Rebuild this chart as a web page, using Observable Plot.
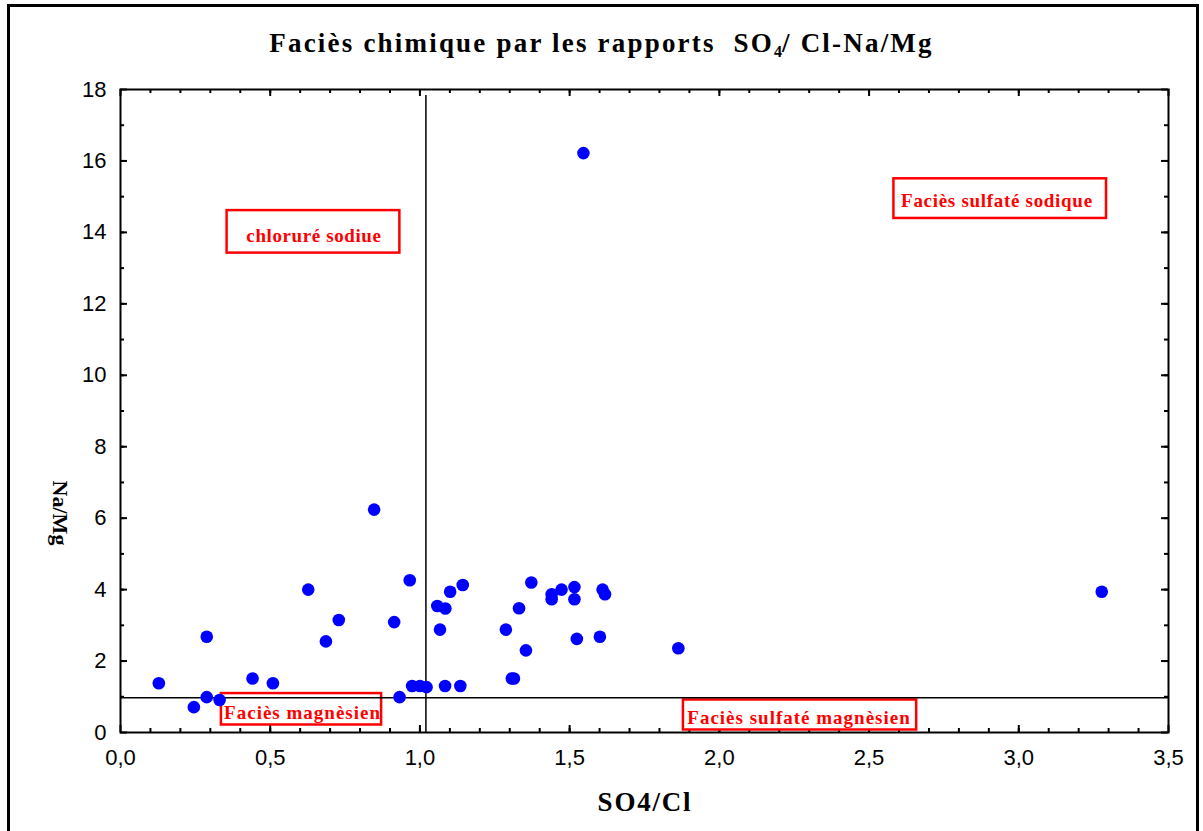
<!DOCTYPE html>
<html>
<head>
<meta charset="utf-8">
<script src="https://cdn.jsdelivr.net/npm/d3@7"></script>
<script src="https://cdn.jsdelivr.net/npm/@observablehq/plot@0.6"></script>
<style>
  html, body { margin: 0; padding: 0; background: #fff; }
  #wrap { position: relative; width: 1203px; height: 831px; overflow: hidden; background: #fff; }
  #border { position: absolute; left: 7px; top: 4px; width: 1186px; height: 900px; border: 3px solid #000; box-sizing: content-box; }
  #chart { position: absolute; left: 0; top: 0; }
  .title { position: absolute; left: 0; width: 1203px; top: 28px; text-align: center;
           font-family: "Liberation Serif", serif; font-weight: bold; font-size: 27px; letter-spacing: 2.2px; color: #000; }
  .title sub { font-size: 16px; vertical-align: -5px; line-height: 0; letter-spacing: 0; }
  .xlabel { position: absolute; left: 0; width: 1290px; top: 787px; text-align: center;
            font-family: "Liberation Serif", serif; font-weight: bold; font-size: 27px; letter-spacing: 1.8px; }
  .ylabel { position: absolute; left: 60px; top: 513px; transform: translate(-50%, -50%) rotate(90deg);
            font-family: "Liberation Serif", serif; font-weight: bold; font-size: 22px; white-space: nowrap; }
</style>
</head>
<body>
<div id="wrap">
  <div id="border"></div>
  <div id="chart"></div>
  <div class="title">Faciès chimique par les rapports&nbsp; SO<sub>4</sub>/ Cl-Na/Mg</div>
  <div class="xlabel">SO4/Cl</div>
  <div class="ylabel">Na/Mg</div>
</div>
<script>
// ---- data ----
const so4cl = [0.128, 0.245, 0.288, 0.288, 0.331, 0.441, 0.509, 0.627, 0.686, 0.729,
               0.847, 0.914, 0.932, 0.966, 0.974, 1.000, 1.022, 1.084, 1.135, 1.058,
               1.085, 1.101, 1.143, 1.067, 1.287, 1.307, 1.314, 1.331, 1.354, 1.372,
               1.440, 1.440, 1.473, 1.516, 1.516, 1.524, 1.546, 1.601, 1.610, 1.618,
               1.863, 3.277];
const naMg  = [1.38, 0.71, 2.68, 0.99, 0.91, 1.51, 1.38, 4.00, 2.55, 3.15,
               6.24, 3.09, 0.99, 4.26, 1.30, 1.30, 1.27, 1.30, 1.30, 3.54,
               3.47, 3.94, 4.13, 2.88, 2.88, 1.51, 1.51, 3.48, 2.30, 4.20,
               3.87, 3.73, 4.00, 4.07, 3.73, 2.62, 16.22, 2.68, 4.00, 3.87,
               2.36, 3.94];
const xTicks = [0, 0.5, 1.0, 1.5, 2.0, 2.5, 3.0, 3.5];
const yTicks = [0, 2, 4, 6, 8, 10, 12, 14, 16, 18];
const limitSO4Cl = 1.02;   // vertical separation line
const limitNaMg = 0.97;    // horizontal separation line
const zoneLabels = ["chloruré sodiue", "Faciès sulfaté sodique", "Faciès magnèsien", "Faciès sulfaté magnèsien"];
const zoneX  = [0.646, 2.927, 0.608, 2.266];
const zoneY  = [13.89, 14.87, 0.54, 0.40];
const zoneX1 = [0.356, 2.583, 0.337, 1.880];
const zoneX2 = [0.933, 3.293, 0.872, 2.659];
const zoneY1 = [13.42, 14.39, 0.21, 0.07];
const zoneY2 = [14.61, 15.50, 1.09, 0.91];

const points = so4cl.map((x, i) => ({x, y: naMg[i]}));
const zones = zoneLabels.map((label, i) => ({label, x: zoneX[i], y: zoneY[i], x1: zoneX1[i], x2: zoneX2[i], y1: zoneY1[i], y2: zoneY2[i]}));
const minorX = d3.range(1, 35).map(i => i / 10);
const minorY = d3.range(1, 18);
const fmt = d => d.toFixed(1).replace(".", ",");

const X0 = 0, X1 = 3.5, Y0 = 0, Y1 = 18;
const W = 1203, H = 831, ML = 120, MR = 35, MT = 89, MB = 99;
// tick lengths expressed in data units (px / scale factor)
const pxX = (X1 - X0) / (W - ML - MR);
const pxY = (Y1 - Y0) / (H - MT - MB);
const tickStyle = {stroke: "#000", strokeWidth: 2};
const ticksX = (vals, len) => [
  Plot.ruleX(vals, {x: d => d, y1: Y0, y2: Y0 + len * pxY, ...tickStyle}),
  Plot.ruleX(vals, {x: d => d, y1: Y1 - len * pxY, y2: Y1, ...tickStyle})
];
const ticksY = (vals, len) => [
  Plot.ruleY(vals, {y: d => d, x1: X0, x2: X0 + len * pxX, ...tickStyle}),
  Plot.ruleY(vals, {y: d => d, x1: X1 - len * pxX, x2: X1, ...tickStyle})
];

const chart = Plot.plot({
  width: W,
  height: H,
  marginLeft: ML,
  marginRight: MR,
  marginTop: MT,
  marginBottom: MB,
  style: {fontFamily: "Liberation Sans, Arial, sans-serif", background: "transparent", color: "#000"},
  x: {domain: [X0, X1]},
  y: {domain: [Y0, Y1]},
  marks: [
    // tick labels
    Plot.axisX({anchor: "bottom", ticks: xTicks, tickFormat: fmt, tickSize: 0, tickPadding: 17, fontSize: 22, label: null}),
    Plot.axisY({anchor: "left", ticks: yTicks, tickFormat: d => String(d), tickSize: 0, tickPadding: 14, fontSize: 22, label: null}),
    // inward ticks
    ...ticksX(minorX, 4),
    ...ticksX(xTicks, 7),
    ...ticksY(minorY, 4),
    ...ticksY(yTicks, 7),
    // zone boxes
    Plot.rect(zones, {x1: "x1", x2: "x2", y1: "y1", y2: "y2", fill: "white", stroke: "#ff0000", strokeWidth: 2.5}),
    // separation lines (drawn over the boxes, as in the original)
    Plot.ruleY([limitNaMg], {stroke: "#000", strokeWidth: 1.5}),
    Plot.ruleX([limitSO4Cl], {y1: 0, y2: 17.83, stroke: "#000", strokeWidth: 1.5}),
    Plot.text(zones, {x: "x", y: "y", text: "label", fill: "#ff0000", fontWeight: "bold",
      fontFamily: "Liberation Serif, serif", fontSize: 19}),
    // points
    Plot.dot(points, {x: "x", y: "y", r: 6.3, fill: "#0000ff", stroke: "none"}),
    Plot.frame({stroke: "#000", strokeWidth: 2})
  ]
});
document.getElementById("chart").appendChild(chart);
// letter spacing of the zone labels
d3.select(chart).selectAll("text")
  .filter(function() { return zoneLabels.includes(this.textContent); })
  .attr("letter-spacing", function() {
    const t = this.textContent;
    return t === "Faciès sulfaté sodique" ? "0.7px" : t.startsWith("Faciès") ? "1px" : "0.6px";
  });
</script>
</body>
</html>
